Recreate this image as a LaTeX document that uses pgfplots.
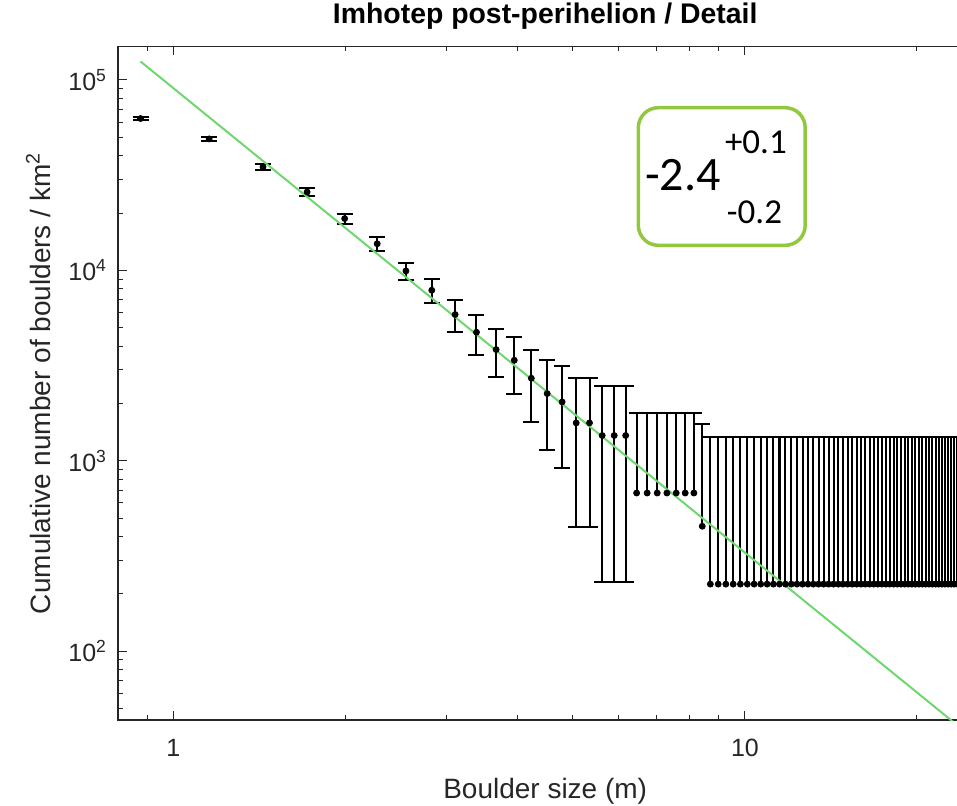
\documentclass[border=0pt]{standalone}
\usepackage{pgfplots}
\pgfplotsset{compat=1.18}
\usepackage{pgfplotstable}
\usepackage{fontspec}
\setmainfont{Liberation Sans}
\newfontfamily\calib{Carlito}
\definecolor{axgray}{RGB}{38,38,38}
\definecolor{fitgreen}{RGB}{110,215,110}
\definecolor{boxgreen}{RGB}{146,200,64}

% points with error bars both ways
\pgfplotstableread{
x y e
0.876 62700 1120
1.155 49000 1120
1.435 34900 1120
1.714 25800 1120
1.994 18700 1120
2.273 13790 1100
2.552 9930 1050
2.832 7863 1120
3.111 5860 1100
3.391 4730 1120
3.670 3837 1100
3.949 3373 1120
4.229 2712 1120
4.508 2253 1115
4.788 2036 1120
5.067 1580 1130
5.346 1580 1130
5.626 1357 1125
5.905 1357 1125
6.185 1357 1125
}\datboth

% points with upper error only
\pgfplotstableread{
x y e
6.464 677 1115
6.744 677 1115
7.023 677 1115
7.302 677 1115
7.582 677 1115
7.861 677 1115
8.141 677 1115
8.420 453 1115
8.699 225 1110
8.979 225 1110
9.258 225 1110
9.537 225 1110
9.817 225 1110
10.096 225 1110
10.376 225 1110
10.655 225 1110
10.934 225 1110
11.214 225 1110
11.493 225 1110
11.773 225 1110
12.052 225 1110
12.331 225 1110
12.611 225 1110
12.890 225 1110
13.170 225 1110
13.449 225 1110
13.728 225 1110
14.008 225 1110
14.287 225 1110
14.567 225 1110
14.846 225 1110
15.125 225 1110
15.405 225 1110
15.684 225 1110
15.964 225 1110
16.243 225 1110
16.522 225 1110
16.802 225 1110
17.081 225 1110
17.361 225 1110
17.640 225 1110
17.919 225 1110
18.199 225 1110
18.478 225 1110
18.758 225 1110
19.037 225 1110
19.316 225 1110
19.596 225 1110
19.875 225 1110
20.155 225 1110
20.434 225 1110
20.713 225 1110
20.993 225 1110
21.272 225 1110
21.552 225 1110
21.831 225 1110
22.110 225 1110
22.390 225 1110
22.669 225 1110
22.949 225 1110
23.228 225 1110
23.508 225 1110
23.787 225 1110
}\datplus

\begin{document}
\begin{tikzpicture}
\begin{axis}[
  scale only axis,
  width=427.2pt, height=336.8pt,
  xmode=log, ymode=log,
  log basis x=10, log basis y=10,
  xmin=0.8, xmax=25,
  ymin=43.5, ymax=150000,
  axis line style={axgray, line width=0.6pt},
  every tick/.style={axgray, line width=0.5pt},
  major tick length=4.5pt,
  minor tick length=2.5pt,
  xtick={1,10}, xticklabels={1,10},
  minor xtick={0.8,0.9,2,3,4,5,6,7,8,9,20},
  ytick={100,1000,10000,100000},
  yticklabels={10\textsuperscript{2},10\textsuperscript{3},10\textsuperscript{4},10\textsuperscript{5}},
  minor ytick={50,60,70,80,90,200,300,400,500,600,700,800,900,2000,3000,4000,5000,6000,7000,8000,9000,20000,30000,40000,50000,60000,70000,80000,90000},
  tick label style={font=\fontsize{12.5}{14}\selectfont, text=axgray},
  xticklabel style={yshift=-6pt},
  yticklabel style={xshift=-2pt},
  xlabel={Boulder size (m)},
  ylabel={Cumulative number of boulders / km\textsuperscript{2}},
  label style={font=\fontsize{14}{16}\selectfont, text=axgray},
  xlabel style={at={(axis description cs:0.5,0)}, anchor=base, yshift=-39pt},
  ylabel style={at={(axis description cs:-0.0795,0.5)}, anchor=base},
  title={Imhotep post-perihelion / Detail},
  title style={font=\bfseries\fontsize{14.2}{16}\selectfont, at={(axis description cs:0.5,1)}, anchor=base, yshift=5.5pt},
]
\coordinate (SW) at (rel axis cs:0,0);
\addplot[black, only marks, mark=*, mark size=1.5pt,
  error bars/.cd, y dir=both, y explicit,
  error bar style={line width=1pt, black},
  error mark options={rotate=90, mark size=4pt, line width=1pt, black}]
  table[x=x, y=y, y error=e] {\datboth};
\addplot[black, only marks, mark=*, mark size=1.5pt,
  error bars/.cd, y dir=plus, y explicit,
  error bar style={line width=1pt, black},
  error mark options={rotate=90, mark size=4pt, line width=1pt, black}]
  table[x=x, y=y, y error=e] {\datplus};
\addplot[fitgreen, line width=1pt] coordinates {(0.876,125000) (25,35.2)};
\draw[boxgreen, line width=1.75pt, rounded corners=10pt]
  (rel axis cs:0.609,0.7047) rectangle (rel axis cs:0.8043,0.909);
\node[anchor=base west, inner sep=0pt, font=\calib\fontsize{24}{24}\selectfont]
  at (rel axis cs:0.6164,0.7864) {-2.4};
\node[anchor=base west, inner sep=0pt, font=\calib\fontsize{17.5}{17.5}\selectfont]
  at (rel axis cs:0.710,0.8412) {+0.1};
\node[anchor=base west, inner sep=0pt, font=\calib\fontsize{17.5}{17.5}\selectfont]
  at (rel axis cs:0.7123,0.7374) {-0.2};
\end{axis}
\pgfresetboundingbox
\useasboundingbox (SW) ++(-59pt,-42.5pt) rectangle ++(478.5pt,402.5pt);
\end{tikzpicture}
\end{document}
